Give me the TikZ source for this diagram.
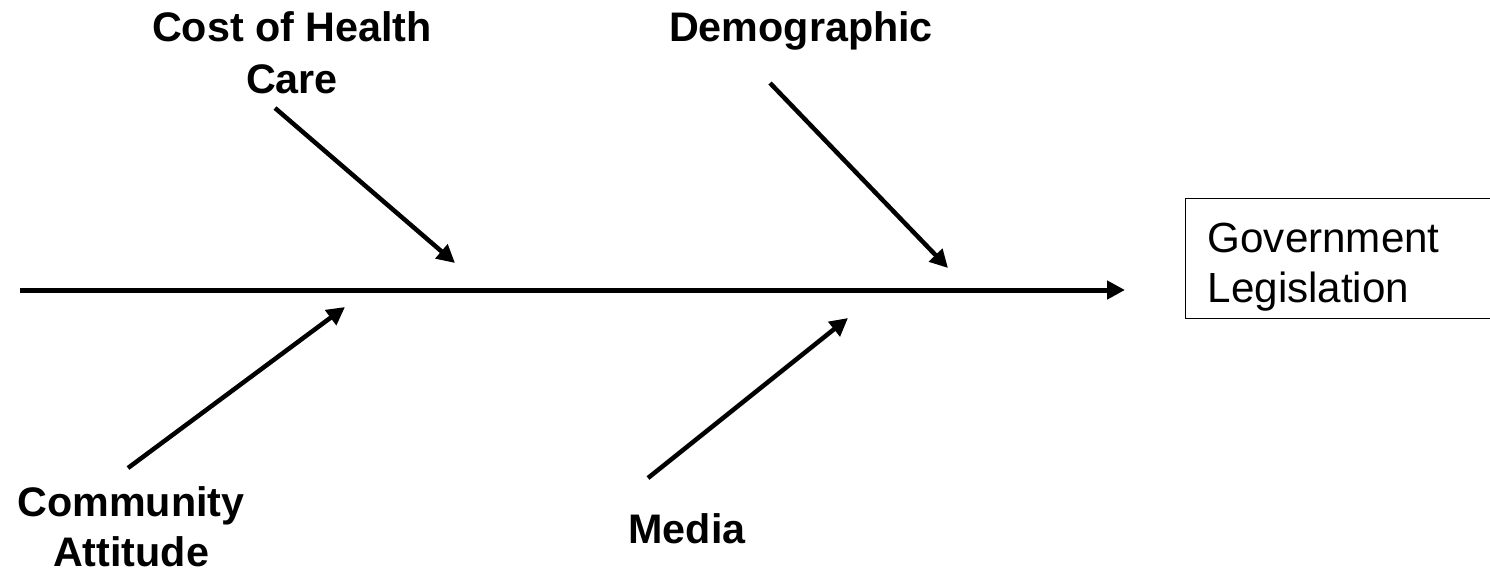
\documentclass[tikz,border=0pt]{standalone}
\usepackage{fontspec}
\setmainfont{Liberation Sans}
\usetikzlibrary{arrows.meta}

\begin{document}
\begin{tikzpicture}[x=0.02cm,y=-0.02cm,>={Triangle[length=0.36cm,width=0.36cm]},inner sep=0pt,
  bone/.style={line width=0.09cm,->},
  cause/.style={font=\bfseries\fontsize{23.5}{29.5}\selectfont,align=center}]
  \useasboundingbox (0,0) rectangle (1490,576);
  % spine
  \coordinate (tail) at (20,290);
  \coordinate (head) at (1125,290);
  \draw[line width=0.1cm,->] (tail) -- (head);
  % effect
  \node[draw,line width=0.027cm,anchor=north west,text height=1.08cm,text depth=1.32cm,text width=5.6cm,
    inner xsep=0.44cm,align=left,font=\fontsize{24}{28.5}\selectfont] (gov) at (1185,198)
    {Government\\Legislation};
  % causes
  \node[cause] (cost) at (292,53) {Cost of Health\\Care};
  \node[cause,anchor=base] (demo) at (801,41) {Demographic};
  \node[cause,font=\bfseries\fontsize{23.5}{28.5}\selectfont] (comm) at (131,527) {Community\\Attitude};
  \node[cause,anchor=base] (media) at (687,543) {Media};
  \coordinate (cost1) at (275,108);  \coordinate (cost2) at (455,263);
  \coordinate (demo1) at (770,83);   \coordinate (demo2) at (948,268);
  \coordinate (comm1) at (128,468);  \coordinate (comm2) at (345,307);
  \coordinate (media1) at (648,478); \coordinate (media2) at (848,318);
  \foreach \b in {cost,demo,comm,media}
    \draw[bone] (\b1) -- (\b2);
\end{tikzpicture}
\end{document}
